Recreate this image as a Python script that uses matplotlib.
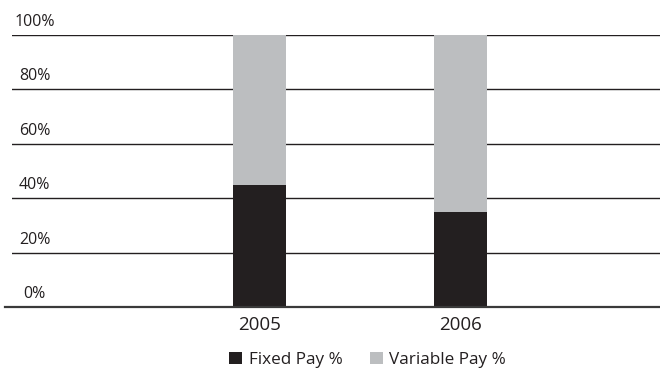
import matplotlib
matplotlib.use("Agg")
import matplotlib.pyplot as plt
from matplotlib.patches import Patch
from matplotlib.transforms import offset_copy, blended_transform_factory

categories = ["2005", "2006"]
fixed_pay = [45, 35]
variable_pay = [55, 65]
series_names = ["Fixed Pay %", "Variable Pay %"]
y_ticks = [0, 20, 40, 60, 80, 100]
y_tick_labels = ["0%", "20%", "40%", "60%", "80%", "100%"]

DARK = "#231f20"
GREY = "#bcbec0"
TEXT = "#231f20"

plt.rcParams['font.family'] = ['Open Sans', 'DejaVu Sans']

fig = plt.figure(figsize=(6.6, 3.7), dpi=100)
W, H = 660, 370
ax = fig.add_axes([12 / W, (H - 307.3) / H, 648 / W, 272.3 / H])
ax.set_ylim(0, 100)
x = list(range(len(categories)))
ax.set_xlim(-1.231, 1.9925)

ax.bar(x, fixed_pay, width=0.264, color=DARK, zorder=3)
ax.bar(x, variable_pay, width=0.264, bottom=fixed_pay, color=GREY, zorder=3)

for v in y_ticks[1:]:
    ax.axhline(v, color=DARK, lw=1.0, zorder=1)

# baseline extends further left
ax.plot([-7 / 648, 1], [0, 0], transform=ax.get_yaxis_transform(),
        color="#3a3a3a", lw=1.6, zorder=4, clip_on=False)

for s in ax.spines.values():
    s.set_visible(False)
ax.set_yticks([])
ax.set_xticks(x)
ax.set_xticklabels(categories, fontsize=13.5, color=TEXT)
ax.tick_params(axis='x', length=0, pad=6.5)

tr = blended_transform_factory(fig.transFigure, ax.transData)
tr = offset_copy(tr, fig=fig, y=3.6, units='points')
for v, lab in zip(y_ticks, y_tick_labels):
    ax.text(34.5 / W, v, lab, transform=tr, ha='center', va='bottom',
            fontsize=11.5, color=TEXT, clip_on=False)

handles = [Patch(facecolor=DARK, edgecolor='none'), Patch(facecolor=GREY, edgecolor='none')]
fig.legend(handles, series_names, loc='lower center', bbox_to_anchor=(0.557, -0.036),
           ncol=2, frameon=False, fontsize=12.3, handlelength=0.75, handleheight=0.75,
           handletextpad=0.4, columnspacing=1.6, labelcolor=TEXT)

fig.savefig("out.png", dpi=100)
